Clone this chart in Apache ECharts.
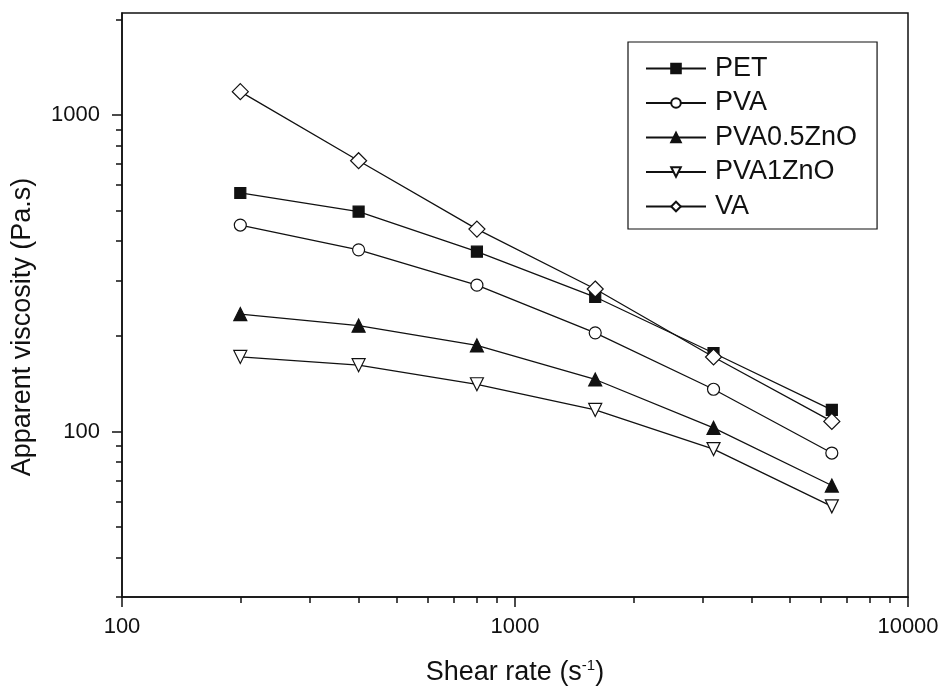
<!DOCTYPE html>
<html>
<head>
<meta charset="utf-8">
<script src="https://cdn.jsdelivr.net/npm/echarts@6/dist/echarts.min.js"></script>
<style>
  html, body { margin: 0; padding: 0; background: #fff; }
  #chart { width: 946px; height: 691px; }
</style>
</head>
<body>
<div id="chart"></div>
<script>
// shear rate (s^-1)
const shearRate = [200, 400, 800, 1600, 3200, 6400];

// apparent viscosity (Pa.s) per sample
const pet = [567, 495, 370, 266, 177, 117];
const pva = [449, 375, 290, 205, 136, 85.5];
const pva05ZnO = [235, 216, 187, 146, 102.7, 67.5];
const pva1ZnO = [172, 162, 141, 117, 88, 58];
const va = [1185, 717, 436, 282, 172, 107.6];

// tick positions
const xMajor = [100, 1000, 10000];
const xMinor = [200, 300, 400, 500, 600, 700, 800, 900, 2000, 3000, 4000, 5000, 6000, 7000, 8000, 9000];
const yMajor = [100, 1000];
const yMinor = [30, 40, 50, 60, 70, 80, 90, 200, 300, 400, 500, 600, 700, 800, 900, 2000];

const FONT = 'Liberation Sans, Arial, sans-serif';
const INK = '#111';

function pairs(ys) {
  return shearRate.map((x, i) => [x, ys[i]]);
}

function plainNum(v) {
  return String(Math.round(v));
}

function makeSeries(name, ys, symbol, size, filled, rotate) {
  return {
    name: name,
    type: 'line',
    xAxisIndex: 0,
    yAxisIndex: 0,
    data: pairs(ys),
    symbol: symbol,
    symbolSize: size,
    symbolRotate: rotate || 0,
    showAllSymbol: true,
    lineStyle: { color: INK, width: 1.3 },
    itemStyle: { color: filled ? INK : '#fff', borderColor: INK, borderWidth: 1.2 },
    emphasis: { disabled: true },
    z: 3
  };
}

const chart = echarts.init(document.getElementById('chart'));

const option = {
  animation: false,
  backgroundColor: '#fff',
  grid: {
    left: 122, top: 13, right: 38, bottom: 93,
    show: true, borderColor: INK, borderWidth: 1.5, backgroundColor: 'transparent'
  },
  legend: {
    left: 628, top: 42,
    orient: 'vertical',
    data: ['PET', 'PVA', 'PVA0.5ZnO', 'PVA1ZnO', 'VA'],
    itemWidth: 60,
    itemHeight: 12,
    itemGap: 7.5,
    padding: [13, 20, 9, 17],
    borderColor: INK,
    borderWidth: 1.2,
    textStyle: { fontFamily: FONT, fontSize: 27, color: INK, lineHeight: 24, padding: [0, 0, 0, 4] },
    selectedMode: false
  },
  xAxis: [
    {
      type: 'log', logBase: 10, min: 100, max: 10000,
      position: 'bottom',
      name: '{a|Shear rate (s}{b|-1}{a|)}',
      nameLocation: 'middle', nameGap: 61,
      nameTextStyle: {
        rich: {
          a: { fontFamily: FONT, fontSize: 27, color: INK },
          b: { fontFamily: FONT, fontSize: 15, color: INK, verticalAlign: 'top', padding: [0, 0, 14, 0] }
        }
      },
      axisLine: { lineStyle: { color: INK, width: 1.5 } },
      axisTick: { show: true, inside: false, length: 10, customValues: xMajor, lineStyle: { color: INK, width: 1.5 } },
      axisLabel: { customValues: xMajor, formatter: plainNum, margin: 19, fontFamily: FONT, fontSize: 22, color: INK },
      splitLine: { show: false }
    },
    {
      type: 'log', logBase: 10, min: 100, max: 10000,
      position: 'bottom',
      axisLine: { show: false },
      axisTick: { show: true, inside: false, length: 6, customValues: xMinor, lineStyle: { color: INK, width: 1.5 } },
      axisLabel: { show: false },
      splitLine: { show: false }
    }
  ],
  yAxis: [
    {
      type: 'log', logBase: 10, min: 30, max: 2100,
      position: 'left',
      name: 'Apparent viscosity (Pa.s)',
      nameLocation: 'middle', nameGap: 86,
      nameTextStyle: { fontFamily: FONT, fontSize: 27, color: INK, padding: [0, 44, 0, 0] },
      axisLine: { lineStyle: { color: INK, width: 1.5 } },
      axisTick: { show: true, inside: false, length: 10, customValues: yMajor, lineStyle: { color: INK, width: 1.5 } },
      axisLabel: { customValues: yMajor, formatter: plainNum, margin: 22, fontFamily: FONT, fontSize: 22, color: INK },
      splitLine: { show: false }
    },
    {
      type: 'log', logBase: 10, min: 30, max: 2100,
      position: 'left',
      axisLine: { show: false },
      axisTick: { show: true, inside: false, length: 6, customValues: yMinor, lineStyle: { color: INK, width: 1.5 } },
      axisLabel: { show: false },
      splitLine: { show: false }
    }
  ],
  series: [
    makeSeries('PET', pet, 'rect', 11, true),
    makeSeries('PVA', pva, 'circle', 12, false),
    makeSeries('PVA0.5ZnO', pva05ZnO, 'triangle', 13, true),
    makeSeries('PVA1ZnO', pva1ZnO, 'triangle', 13, false, 180),
    makeSeries('VA', va, 'diamond', 16, false)
  ]
};

chart.setOption(option);
</script>
</body>
</html>
